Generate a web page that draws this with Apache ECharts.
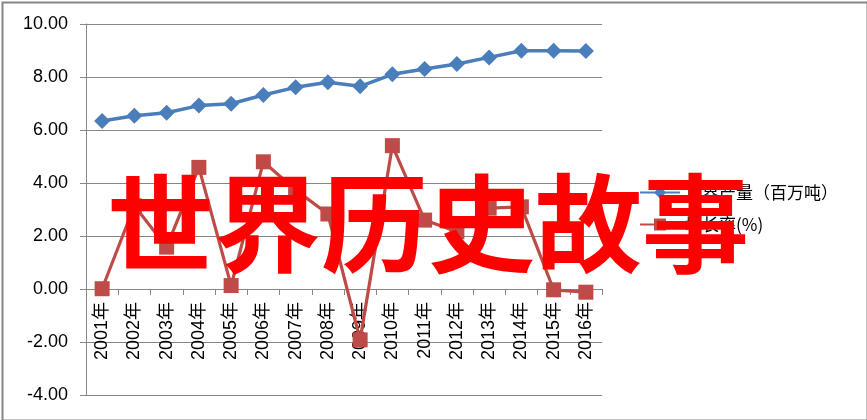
<!DOCTYPE html>
<html>
<head>
<meta charset="utf-8">
<script src="https://cdn.jsdelivr.net/npm/echarts@6/dist/echarts.min.js"></script>
<style>
html,body{margin:0;padding:0;background:#fff;}
#c{width:867px;height:420px;}
</style>
</head>
<body>
<div id="c"></div>
<script>
const categories = ['2001年','2002年','2003年','2004年','2005年','2006年','2007年','2008年','2009年','2010年','2011年','2012年','2013年','2014年','2015年','2016年'];
const supplyName = '世界产量（百万吨）';
const growthName = '增长率(%)';
const supply = [6.34, 6.54, 6.65, 6.92, 6.99, 7.32, 7.61, 7.80, 7.65, 8.10, 8.30, 8.49, 8.74, 8.99, 8.99, 8.98];
const growth = [0.01, 3.14, 1.58, 4.59, 0.13, 4.80, 3.74, 2.83, -1.92, 5.41, 2.60, 2.16, 3.05, 3.10, -0.03, -0.12];
const watermark = '世界历史故事';

const chart = echarts.init(document.getElementById('c'));
const font = '"Liberation Sans", "Noto Sans CJK SC", sans-serif';
const cjkFont = '"Noto Sans CJK SC", sans-serif';
chart.setOption({
  animation: false,
  textStyle: {fontFamily: font},
  grid: {left: 86, right: 265, top: 24, bottom: 25, containLabel: false, outerBoundsMode: 'none'},
  xAxis: {
    type: 'category',
    data: categories,
    boundaryGap: true,
    position: 'bottom',
    offset: -106,
    axisLine: {onZero: false, lineStyle: {color: '#868686', width: 1}},
    axisTick: {show: true, length: 6, lineStyle: {color: '#868686'}},
    axisLabel: {rotate: 90, margin: 13, fontSize: 18, color: '#000', fontFamily: font, interval: 0}
  },
  yAxis: {
    type: 'value',
    min: -4, max: 10, interval: 2,
    axisLine: {show: true, lineStyle: {color: '#868686'}},
    axisTick: {show: true, length: 6, lineStyle: {color: '#868686'}},
    splitLine: {lineStyle: {color: '#868686', width: 1}},
    axisLabel: {fontSize: 18, color: '#000', margin: 18, formatter: v => v.toFixed(2), fontFamily: font}
  },
  legend: {
    orient: 'vertical',
    left: 634, top: 179,
    itemGap: 15,
    itemWidth: 40, itemHeight: 15,
    textStyle: {fontSize: 17, color: '#000', fontFamily: cjkFont},
    data: [supplyName, growthName]
  },
  series: [
    {
      name: supplyName, type: 'line', data: supply,
      symbol: 'diamond', symbolSize: 16,
      lineStyle: {color: '#4A7EBB', width: 3.5},
      itemStyle: {color: '#4A7EBB'}
    },
    {
      name: growthName, type: 'line', data: growth,
      symbol: 'rect', symbolSize: 15,
      lineStyle: {color: '#BE4B48', width: 3.2},
      itemStyle: {color: '#BE4B48'}
    }
  ],
  graphic: [
    {type: 'rect', left: 0, top: 0, z: 100, silent: true,
     shape: {x: 1, y: 1, width: 865, height: 418},
     style: {fill: 'none', stroke: '#868686', lineWidth: 2}},
    {type: 'text', z: 200, silent: true,
     x: 428, y: 223,
     style: {text: watermark, fill: '#FF0000', font: 'bold 107px "Noto Sans CJK SC"', textAlign: 'center', textVerticalAlign: 'middle'}}
  ]
});
</script>
</body>
</html>
